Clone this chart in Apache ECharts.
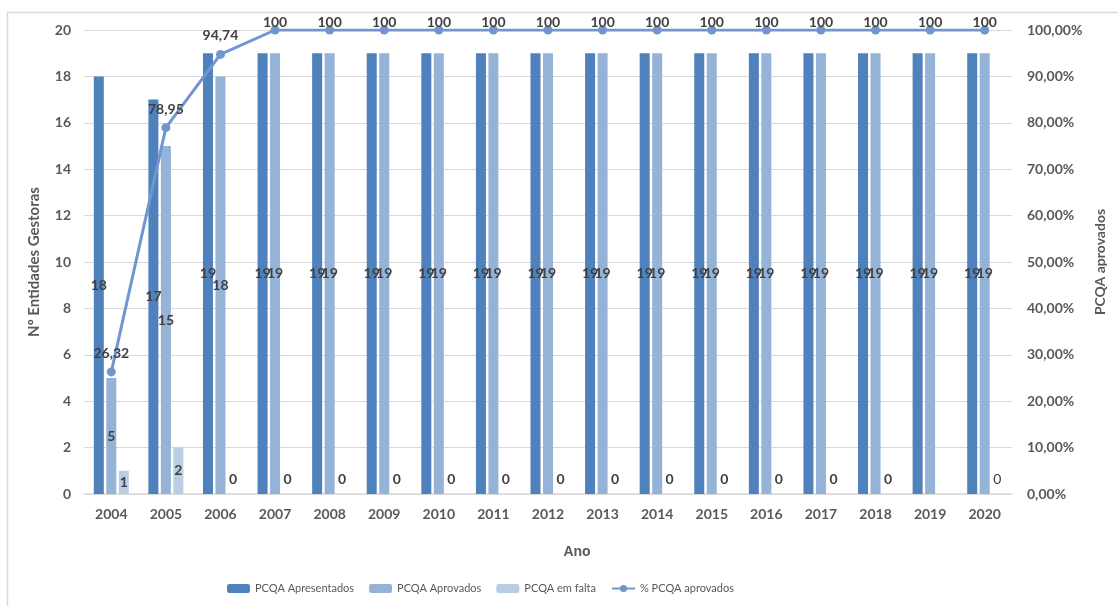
<!DOCTYPE html>
<html>
<head>
<meta charset="utf-8">
<script src="https://cdn.jsdelivr.net/npm/echarts@6/dist/echarts.min.js"></script>
<style>
  html, body { margin: 0; padding: 0; background: #ffffff; }
  #chart { width: 1118px; height: 606px; }
</style>
</head>
<body>
<div id="chart"></div>
<script>
// Years on the category axis
const anos = ['2004','2005','2006','2007','2008','2009','2010','2011','2012','2013','2014','2015','2016','2017','2018','2019','2020'];
// Number of management entities per year
const apresentados = [18, 17, 19, 19, 19, 19, 19, 19, 19, 19, 19, 19, 19, 19, 19, 19, 19];
const aprovados    = [5, 15, 18, 19, 19, 19, 19, 19, 19, 19, 19, 19, 19, 19, 19, 19, 19];
const emFalta      = [1, 2, 0, 0, 0, 0, 0, 0, 0, 0, 0, 0, 0, 0, 0, null, 0];
// Share of approved plans (%)
const percAprovados = [26.32, 78.95, 94.74, 100, 100, 100, 100, 100, 100, 100, 100, 100, 100, 100, 100, 100, 100];
// Right axis ticks
const pctTicks = [0, 10, 20, 30, 40, 50, 60, 70, 80, 90, 100];

const FONT = 'Lato, "Open Sans", sans-serif';
const AXIS_TXT = '#595959';
const LBL_TXT = '#404040';

const ptNum = v => String(v).replace('.', ',');

// Bar labels: centred in the bar, zero-height bars get their label lifted above the base
function barItems(values, lastNormal) {
  return values.map((v, i) => {
    if (v === null) return null;
    const item = { value: v };
    if (v === 0) {
      item.label = { position: 'insideBottom', distance: 8 };
      if (lastNormal && i === values.length - 1) item.label.fontWeight = 'normal';
    }
    return item;
  });
}

// Line labels sit above points; those at the top of the scale are kept inside the chart
const lineItems = percAprovados.map(v => {
  const item = { value: v };
  if (v >= 100) item.label = { distance: -4 };
  return item;
});

const barLabel = {
  show: true,
  position: 'inside',
  color: LBL_TXT,
  fontFamily: FONT,
  fontWeight: 'bold',
  fontSize: 14
};

const chart = echarts.init(document.getElementById('chart'), null, { renderer: 'canvas' });

chart.setOption({
  animation: false,
  backgroundColor: '#ffffff',
  textStyle: { fontFamily: FONT },
  graphic: [{
    type: 'rect',
    left: 5, top: 10,
    shape: { width: 1300, height: 800 },
    style: { fill: 'none', stroke: '#d9d9d9', lineWidth: 1.5 },
    silent: true, z: -10
  }],
  grid: { left: 84, right: 106, top: 30, bottom: 112 },
  legend: {
    left: 222,
    top: 578,
    itemWidth: 23,
    itemHeight: 9,
    itemGap: 15,
    textStyle: { color: AXIS_TXT, fontSize: 11, fontFamily: FONT },
    data: ['PCQA Apresentados', 'PCQA Aprovados', 'PCQA em falta', '% PCQA aprovados']
  },
  xAxis: {
    type: 'category',
    data: anos,
    name: 'Ano',
    nameLocation: 'middle',
    nameGap: 51,
    nameTextStyle: { color: AXIS_TXT, fontWeight: 'bold', fontSize: 14, fontFamily: 'Liberation Sans, Arial, sans-serif', padding: [0, 0, 0, 58] },
    axisLine: { lineStyle: { color: '#d9d9d9', width: 1.5 } },
    axisTick: { show: false },
    axisLabel: { color: AXIS_TXT, fontWeight: 'bold', fontSize: 14, margin: 13, fontFamily: FONT }
  },
  yAxis: [{
    type: 'value',
    min: 0, max: 20, interval: 2,
    name: 'Nº Entidades Gestoras',
    nameLocation: 'middle',
    nameRotate: 90,
    nameGap: 42,
    nameTextStyle: { color: AXIS_TXT, fontWeight: 'bold', fontSize: 15, fontFamily: FONT },
    axisLine: { show: false },
    axisTick: { show: false },
    axisLabel: { color: AXIS_TXT, fontWeight: 'bold', fontSize: 14, margin: 13, fontFamily: FONT },
    splitLine: { lineStyle: { color: '#d9d9d9', width: 1.2 } }
  }, {
    type: 'value',
    min: pctTicks[0], max: pctTicks[pctTicks.length - 1], interval: pctTicks[1] - pctTicks[0],
    name: 'PCQA aprovados',
    nameLocation: 'middle',
    nameRotate: 90,
    nameGap: 77,
    nameTextStyle: { color: AXIS_TXT, fontWeight: 'bold', fontSize: 14, fontFamily: FONT },
    axisLine: { show: false },
    axisTick: { show: false },
    splitLine: { show: false },
    axisLabel: {
      color: AXIS_TXT, fontWeight: 'bold', fontSize: 14, margin: 15, fontFamily: FONT,
      formatter: v => v.toFixed(2).replace('.', ',') + '%'
    }
  }],
  series: [{
    name: 'PCQA Apresentados',
    type: 'bar',
    barWidth: 10,
    barGap: '25%',
    itemStyle: { color: '#4f81bd' },
    label: barLabel,
    data: barItems(apresentados)
  }, {
    name: 'PCQA Aprovados',
    type: 'bar',
    barWidth: 10,
    barGap: '25%',
    itemStyle: { color: '#95b3d7' },
    label: barLabel,
    data: barItems(aprovados)
  }, {
    name: 'PCQA em falta',
    type: 'bar',
    barWidth: 10,
    barGap: '25%',
    itemStyle: { color: '#b9cde5' },
    label: barLabel,
    data: barItems(emFalta, true)
  }, {
    name: '% PCQA aprovados',
    type: 'line',
    yAxisIndex: 1,
    symbol: 'circle',
    symbolSize: 9,
    z: 5,
    lineStyle: { color: '#7196cf', width: 3 },
    itemStyle: { color: '#7196cf' },
    label: {
      show: true,
      position: 'top',
      distance: 7,
      color: LBL_TXT,
      fontFamily: FONT,
      fontWeight: 'bold',
      fontSize: 14,
      formatter: p => ptNum(p.value)
    },
    data: lineItems
  }]
});
</script>
</body>
</html>
